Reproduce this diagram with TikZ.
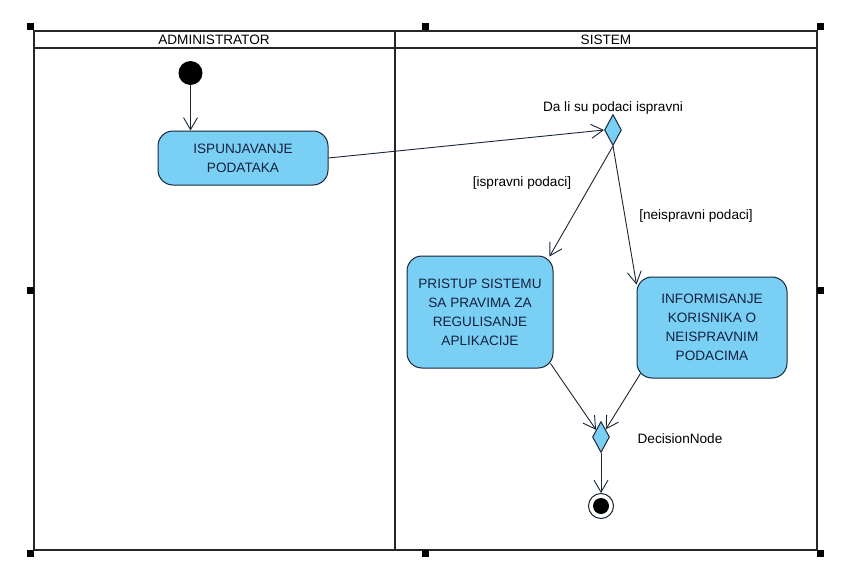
\documentclass[tikz,border=0pt]{standalone}
\usepackage{fontspec}
\setmainfont{Liberation Sans}
\usetikzlibrary{arrows.meta,shapes.geometric}
\definecolor{cblue}{HTML}{7ACFF5}
\definecolor{cink}{HTML}{1A2636}
\definecolor{ctext}{HTML}{14213D}
\tikzset{
  >={Straight Barb[length=12pt,width=14pt]},
  actv/.style={draw=cink,fill=cblue,rounded corners=15pt,line width=1pt,align=center,text=ctext,inner sep=0pt},
  dcsn/.style={diamond,draw=cink,fill=cblue,line width=1pt,minimum width=17pt,minimum height=31pt,inner sep=0pt},
  flow/.style={->,cink,line width=0.9pt},
  lane/.style={black!85,line width=2.4pt},
  lbl/.style={text=black,inner sep=1pt},
}

\begin{document}
\begin{tikzpicture}[x=1pt,y=-1pt,font=\fontsize{13.6}{19}\selectfont]

\fill[white] (0,0) rectangle (852,581);
\useasboundingbox (0,0) rectangle (852,581);

% ================= SWIMLANES =================
\draw[lane] (34,31) rectangle (817,550);
\draw[lane] (34,48) -- (817,48);
\draw[lane] (395,31) -- (395,550);
\node[lbl] (hadmin) at (214,40) {ADMINISTRATOR};
\node[lbl] (hsis) at (606,40) {SISTEM};
% selection handles
\foreach \p in {(30.5,26),(425,26),(820,26),(30.5,290),(820,290),(30.5,553.5),(425,553.5),(820,553.5)}
  \fill[black] \p ++(-3.5,-3.5) rectangle ++(7,7);

% ================= ADMINISTRATOR =================
\node[circle,fill=black,minimum size=24pt,inner sep=0pt] (start) at (190.5,73) {};
\node[actv,minimum width=170pt,minimum height=54pt] (ispun) at (243,158) {ISPUNJAVANJE\\PODATAKA};

% ================= SISTEM =================
\node[dcsn] (d1) at (613,130) {};
\node[lbl] (q1) at (613,108) {Da li su podaci ispravni};
\node[actv,minimum width=146pt,minimum height=112pt] (pristup) at (480,312) {PRISTUP SISTEMU\\SA PRAVIMA ZA\\REGULISANJE\\APLIKACIJE};
\node[actv,minimum width=150pt,minimum height=101pt] (inform) at (712,327.5) {INFORMISANJE\\KORISNIKA O\\NEISPRAVNIM\\PODACIMA};
\node[lbl] (gok) at (522,183) {[ispravni podaci]};
\node[lbl] (gbad) at (696,216) {[neispravni podaci]};
\node[dcsn] (d2) at (601,437) {};
\node[lbl] (q2) at (680,439) {DecisionNode};
\node[circle,draw=cink,line width=1pt,minimum size=25pt,inner sep=0pt,
  path picture={\fill[black] (path picture bounding box.center) circle (8pt);}] (final) at (601,506) {};

% flows
\draw[flow] (start) -- (start |- ispun.north);
\draw[flow] (ispun.east) -- (d1.west);
\draw[flow] (d1.south) -- ([xshift=-4pt,yshift=-1pt]pristup.north east);
\draw[flow] (d1.south) -- ([yshift=-8pt]inform.north west);
\draw[flow] ([xshift=-3pt,yshift=5pt]pristup.south east) -- (d2);
\draw[flow] ([xshift=4pt,yshift=5pt]inform.south west) -- (d2);
\draw[flow] (d2.south) -- (final);

\end{tikzpicture}
\end{document}
